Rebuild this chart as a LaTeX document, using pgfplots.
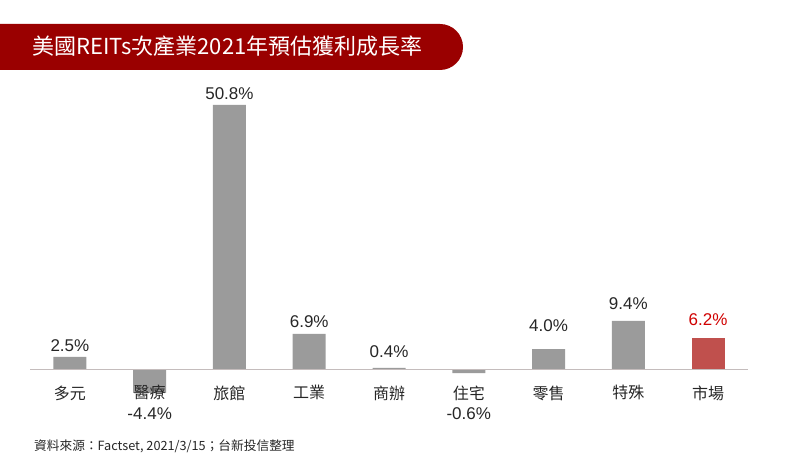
\documentclass[border=0pt]{standalone}
\usepackage{fontspec}
\setmainfont{Liberation Sans}
\newfontfamily\cjk{Noto Sans CJK TC}
\usepackage{pgfplots}
\usepackage{pgfplotstable}
\pgfplotsset{compat=1.18}

\definecolor{banner}{HTML}{9A0000}
\definecolor{bargray}{HTML}{9B9B9B}
\definecolor{barred}{HTML}{C0504D}
\definecolor{txt}{HTML}{262626}
\definecolor{labred}{HTML}{D00000}
\definecolor{axisline}{HTML}{C4BCBC}

% x: category index, v: growth (%), ly: where the value label sits
\pgfplotstableread{
x v ly
0 2.5 4.66
1 -4.4 -8.3
2 50.8 52.87
3 6.9 9.29
4 0.4 3.45
5 -0.6 -8.3
6 4.0 8.43
7 9.4 12.64
}\sectors
\pgfplotstableread{
x v ly
8 6.2 9.71
}\market

\begin{document}
\begin{tikzpicture}
\path[use as bounding box] (0pt,0pt) rectangle (800pt,460pt);

\fill[banner] (0pt,390pt) -- (440pt,390pt) arc[start angle=-90, end angle=90, radius=23pt] -- (0pt,436pt) -- cycle;
\node[anchor=west, text=white, font=\cjk\fontsize{22}{26}\selectfont, inner sep=0pt]
  at (32pt,414pt) {美國REITs次產業2021年預估獲利成長率};

\begin{axis}[
  scale only axis,
  width=718pt, height=339.3pt,
  at={(30pt,37.8pt)}, anchor=south west,
  xmin=-0.5, xmax=8.5, ymin=-10, ymax=55,
  axis on top,
  axis x line=middle, axis y line=none,
  axis line style={draw=axisline, line width=1pt, -},
  every inner x axis line/.append style={-},
  xtick={0,...,8}, major tick length=0pt,
  xticklabels={多元,醫療,旅館,工業,商辦,住宅,零售,特殊,市場},
  xticklabel style={font=\cjk\fontsize{16}{19}\selectfont, text=txt, yshift=-12pt},
  clip=false,
  label plot/.style={only marks, mark=*, mark size=0pt, draw=none, fill=none,
    point meta=explicit symbolic, nodes near coords={\pgfplotspointmeta\%},
    every node near coord/.append style={anchor=center, font=\fontsize{17}{20}\selectfont}},
]
\addplot[ybar, bar width=33pt, bar shift=0pt, fill=bargray, draw=none] table[x=x, y=v] {\sectors};
\addplot[ybar, bar width=33pt, bar shift=0pt, fill=barred, draw=none] table[x=x, y=v] {\market};

\addplot[label plot, every node near coord/.append style={text=txt}] table[x=x, y=ly, meta=v] {\sectors};
\addplot[label plot, every node near coord/.append style={text=labred}] table[x=x, y=ly, meta=v] {\market};
\end{axis}

\node[anchor=west, inner sep=0pt, font=\cjk\fontsize{12.7}{15}\selectfont, text=txt]
  at (34pt,14pt) {資料來源：Factset, 2021/3/15；台新投信整理};
\end{tikzpicture}
\end{document}
